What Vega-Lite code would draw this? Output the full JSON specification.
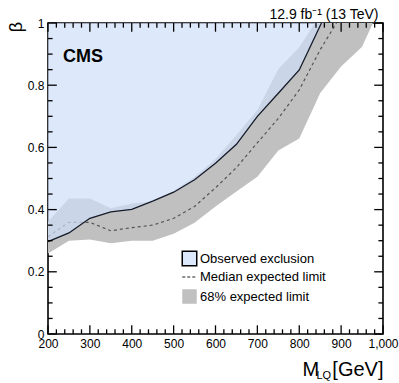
{
  "$schema": "https://vega.github.io/schema/vega-lite/v6.json",
  "autosize": {"type": "none"},
  "padding": {"left": 48, "top": 23, "right": 16, "bottom": 49},
  "width": 335,
  "height": 311,
  "config": {
    "view": {"stroke": "#000", "strokeWidth": 1.6},
    "font": "Liberation Sans",
    "axis": {"domain": false, "ticks": false, "grid": false, "zindex": 1, "labelFont": "Liberation Sans", "labelFontSize": 12, "labelColor": "#000", "labelPadding": 4, "titleFont": "Liberation Sans", "titleFontWeight": "normal", "titleColor": "#000", "labelFlush": false, "labelOverlap": false}
  },
  "datasets": {
    "obs": [
      {"M": 200, "beta": 0.297}, {"M": 250, "beta": 0.325}, {"M": 300, "beta": 0.372},
      {"M": 350, "beta": 0.393}, {"M": 400, "beta": 0.401}, {"M": 450, "beta": 0.427},
      {"M": 500, "beta": 0.456}, {"M": 550, "beta": 0.496}, {"M": 600, "beta": 0.549},
      {"M": 650, "beta": 0.61}, {"M": 700, "beta": 0.70}, {"M": 750, "beta": 0.774},
      {"M": 800, "beta": 0.849}, {"M": 853, "beta": 1.0}
    ],
    "med": [
      {"M": 200, "beta": 0.313}, {"M": 250, "beta": 0.359}, {"M": 300, "beta": 0.359},
      {"M": 350, "beta": 0.332}, {"M": 400, "beta": 0.342}, {"M": 450, "beta": 0.35},
      {"M": 500, "beta": 0.372}, {"M": 550, "beta": 0.41}, {"M": 600, "beta": 0.47},
      {"M": 650, "beta": 0.535}, {"M": 700, "beta": 0.615}, {"M": 750, "beta": 0.693},
      {"M": 800, "beta": 0.785}, {"M": 850, "beta": 0.914}, {"M": 889, "beta": 1.0}
    ],
    "band": [
      {"M": 200, "lo": 0.259, "hi": 0.361}, {"M": 250, "lo": 0.300, "hi": 0.436},
      {"M": 300, "lo": 0.304, "hi": 0.436}, {"M": 350, "lo": 0.292, "hi": 0.404},
      {"M": 400, "lo": 0.300, "hi": 0.42}, {"M": 450, "lo": 0.300, "hi": 0.427},
      {"M": 500, "lo": 0.322, "hi": 0.46}, {"M": 550, "lo": 0.358, "hi": 0.505},
      {"M": 600, "lo": 0.41, "hi": 0.563}, {"M": 650, "lo": 0.458, "hi": 0.64},
      {"M": 700, "lo": 0.506, "hi": 0.72}, {"M": 750, "lo": 0.59, "hi": 0.852},
      {"M": 800, "lo": 0.629, "hi": 0.922}, {"M": 837, "lo": 0.736, "hi": 1.0},
      {"M": 850, "lo": 0.775, "hi": 1.0}, {"M": 900, "lo": 0.86, "hi": 1.0},
      {"M": 950, "lo": 0.924, "hi": 1.0}, {"M": 976, "lo": 1.0, "hi": 1.0}
    ],
    "xmaj": [{"v": 200}, {"v": 300}, {"v": 400}, {"v": 500}, {"v": 600}, {"v": 700}, {"v": 800}, {"v": 900}, {"v": 1000}],
    "xmin": [{"v": 220}, {"v": 240}, {"v": 260}, {"v": 280}, {"v": 320}, {"v": 340}, {"v": 360}, {"v": 380}, {"v": 420}, {"v": 440}, {"v": 460}, {"v": 480}, {"v": 520}, {"v": 540}, {"v": 560}, {"v": 580}, {"v": 620}, {"v": 640}, {"v": 660}, {"v": 680}, {"v": 720}, {"v": 740}, {"v": 760}, {"v": 780}, {"v": 820}, {"v": 840}, {"v": 860}, {"v": 880}, {"v": 920}, {"v": 940}, {"v": 960}, {"v": 980}],
    "ymaj": [{"v": 0}, {"v": 0.2}, {"v": 0.4}, {"v": 0.6}, {"v": 0.8}, {"v": 1}],
    "ymin": [{"v": 0.05}, {"v": 0.1}, {"v": 0.15}, {"v": 0.25}, {"v": 0.3}, {"v": 0.35}, {"v": 0.45}, {"v": 0.5}, {"v": 0.55}, {"v": 0.65}, {"v": 0.7}, {"v": 0.75}, {"v": 0.85}, {"v": 0.9}, {"v": 0.95}]
  },
  "resolve": {"axis": {"x": "independent", "y": "independent"}},
  "layer": [
    {
      "data": {"name": "band"},
      "mark": {"type": "area", "opacity": 1},
      "encoding": {
        "x": {"field": "M", "type": "quantitative", "scale": {"domain": [200, 1000], "nice": false, "zero": false},
              "axis": {"orient": "bottom", "values": [200, 300, 400, 500, 600, 700, 800, 900, 1000], "title": "[GeV]", "titleFontSize": 20, "titleX": 335, "titleY": 41, "titleAlign": "right", "titleBaseline": "alphabetic", "titleAnchor": null}},
        "y": {"field": "lo", "type": "quantitative", "scale": {"domain": [0, 1], "nice": false, "zero": false},
              "axis": {"orient": "left", "values": [0, 0.2, 0.4, 0.6, 0.8, 1], "format": "~g", "title": null}},
        "y2": {"field": "hi"},
        "fill": {"datum": "68% expected limit", "type": "nominal",
                 "scale": {"domain": ["Observed exclusion", "Median expected limit", "68% expected limit"], "range": ["#dce8fc", "transparent", "#c0c0c0"]},
                 "legend": {"title": null, "orient": "none", "legendX": 135, "legendY": 229, "padding": 0, "symbolSize": 210, "symbolType": "square", "labelFontSize": 13, "labelFont": "Liberation Sans", "labelColor": "#000", "rowPadding": 1.5, "labelOffset": 4, "symbolOpacity": 1,
                   "encoding": {"symbols": {
                     "shape": {"value": {"expr": "datum.value === 'Median expected limit' ? 'stroke' : 'square'"}},
                     "stroke": {"value": {"expr": "datum.value === 'Observed exclusion' ? '#000' : (datum.value === 'Median expected limit' ? '#222' : 'transparent')"}},
                     "strokeDash": {"value": {"expr": "datum.value === 'Median expected limit' ? [3, 2] : [1, 0]"}},
                     "strokeWidth": {"value": {"expr": "datum.value === 'Observed exclusion' ? 1.5 : 1.2"}}
                   }}}}
      }
    },
    {
      "data": {"name": "med"},
      "mark": {"type": "line", "color": "#555", "strokeWidth": 1.2, "strokeDash": [3, 3]},
      "encoding": {
        "x": {"field": "M", "type": "quantitative",
              "axis": {"orient": "bottom", "values": [200], "labels": false, "title": "M", "titleFontSize": 20, "titleX": 254, "titleY": 41, "titleAlign": "left", "titleBaseline": "alphabetic", "titleAnchor": null}},
        "y": {"field": "beta", "type": "quantitative",
              "axis": {"orient": "left", "values": [0], "labels": false, "title": "β", "titleFontSize": 18, "titleX": -26.5, "titleY": -1.5, "titleAngle": -90, "titleAlign": "right", "titleBaseline": "alphabetic", "titleAnchor": null}}
      }
    },
    {
      "data": {"name": "obs"},
      "mark": {"type": "area", "color": "#cfdff9", "opacity": 0.7},
      "encoding": {
        "x": {"field": "M", "type": "quantitative",
              "axis": {"orient": "top", "values": [200], "labels": false, "title": "12.9 fb⁻¹ (13 TeV)", "titleFontSize": 14, "titleX": 330, "titleY": -4.7, "titleAlign": "right", "titleBaseline": "alphabetic", "titleAnchor": null}},
        "y": {"field": "beta", "type": "quantitative", "axis": null},
        "y2": {"datum": 1}
      }
    },
    {
      "data": {"name": "obs"},
      "mark": {"type": "line", "color": "#141a28", "strokeWidth": 1.3},
      "encoding": {
        "x": {"field": "M", "type": "quantitative",
              "axis": {"orient": "top", "values": [200], "labels": false, "title": "LQ", "titleFontSize": 11, "titleX": 268, "titleY": 355, "titleAlign": "left", "titleBaseline": "alphabetic", "titleAnchor": null}},
        "y": {"field": "beta", "type": "quantitative", "axis": null}
      }
    },
    {
      "data": {"name": "xmaj"},
      "mark": {"type": "rule", "color": "#000", "strokeWidth": 1.3, "opacity": 1},
      "encoding": {"x": {"field": "v", "type": "quantitative", "axis": null}, "y": {"datum": 0, "type": "quantitative", "axis": null}, "y2": {"datum": 0.028}}
    },
    {
      "data": {"name": "xmaj"},
      "mark": {"type": "rule", "color": "#000", "strokeWidth": 1.3, "opacity": 1},
      "encoding": {"x": {"field": "v", "type": "quantitative", "axis": null}, "y": {"datum": 1, "type": "quantitative", "axis": null}, "y2": {"datum": 0.972}}
    },
    {
      "data": {"name": "xmin"},
      "mark": {"type": "rule", "color": "#000", "strokeWidth": 1.3, "opacity": 1},
      "encoding": {"x": {"field": "v", "type": "quantitative", "axis": null}, "y": {"datum": 0, "type": "quantitative", "axis": null}, "y2": {"datum": 0.015}}
    },
    {
      "data": {"name": "xmin"},
      "mark": {"type": "rule", "color": "#000", "strokeWidth": 1.3, "opacity": 1},
      "encoding": {"x": {"field": "v", "type": "quantitative", "axis": null}, "y": {"datum": 1, "type": "quantitative", "axis": null}, "y2": {"datum": 0.985}}
    },
    {
      "data": {"name": "ymaj"},
      "mark": {"type": "rule", "color": "#000", "strokeWidth": 1.3, "opacity": 1},
      "encoding": {"y": {"field": "v", "type": "quantitative", "axis": null}, "x": {"datum": 200, "type": "quantitative", "axis": null}, "x2": {"datum": 221}}
    },
    {
      "data": {"name": "ymaj"},
      "mark": {"type": "rule", "color": "#000", "strokeWidth": 1.3, "opacity": 1},
      "encoding": {"y": {"field": "v", "type": "quantitative", "axis": null}, "x": {"datum": 1000, "type": "quantitative", "axis": null}, "x2": {"datum": 979}}
    },
    {
      "data": {"name": "ymin"},
      "mark": {"type": "rule", "color": "#000", "strokeWidth": 1.3, "opacity": 1},
      "encoding": {"y": {"field": "v", "type": "quantitative", "axis": null}, "x": {"datum": 200, "type": "quantitative", "axis": null}, "x2": {"datum": 211}}
    },
    {
      "data": {"name": "ymin"},
      "mark": {"type": "rule", "color": "#000", "strokeWidth": 1.3, "opacity": 1},
      "encoding": {"y": {"field": "v", "type": "quantitative", "axis": null}, "x": {"datum": 1000, "type": "quantitative", "axis": null}, "x2": {"datum": 989}}
    },
    {
      "data": {"values": [{"label": "CMS"}]},
      "mark": {"type": "text", "fontSize": 18, "fontWeight": "bold", "font": "Liberation Sans", "align": "left", "baseline": "alphabetic", "color": "#000"},
      "encoding": {
        "x": {"datum": 236, "type": "quantitative", "axis": null},
        "y": {"datum": 0.876, "type": "quantitative", "axis": null},
        "text": {"field": "label"}
      }
    }
  ]
}
